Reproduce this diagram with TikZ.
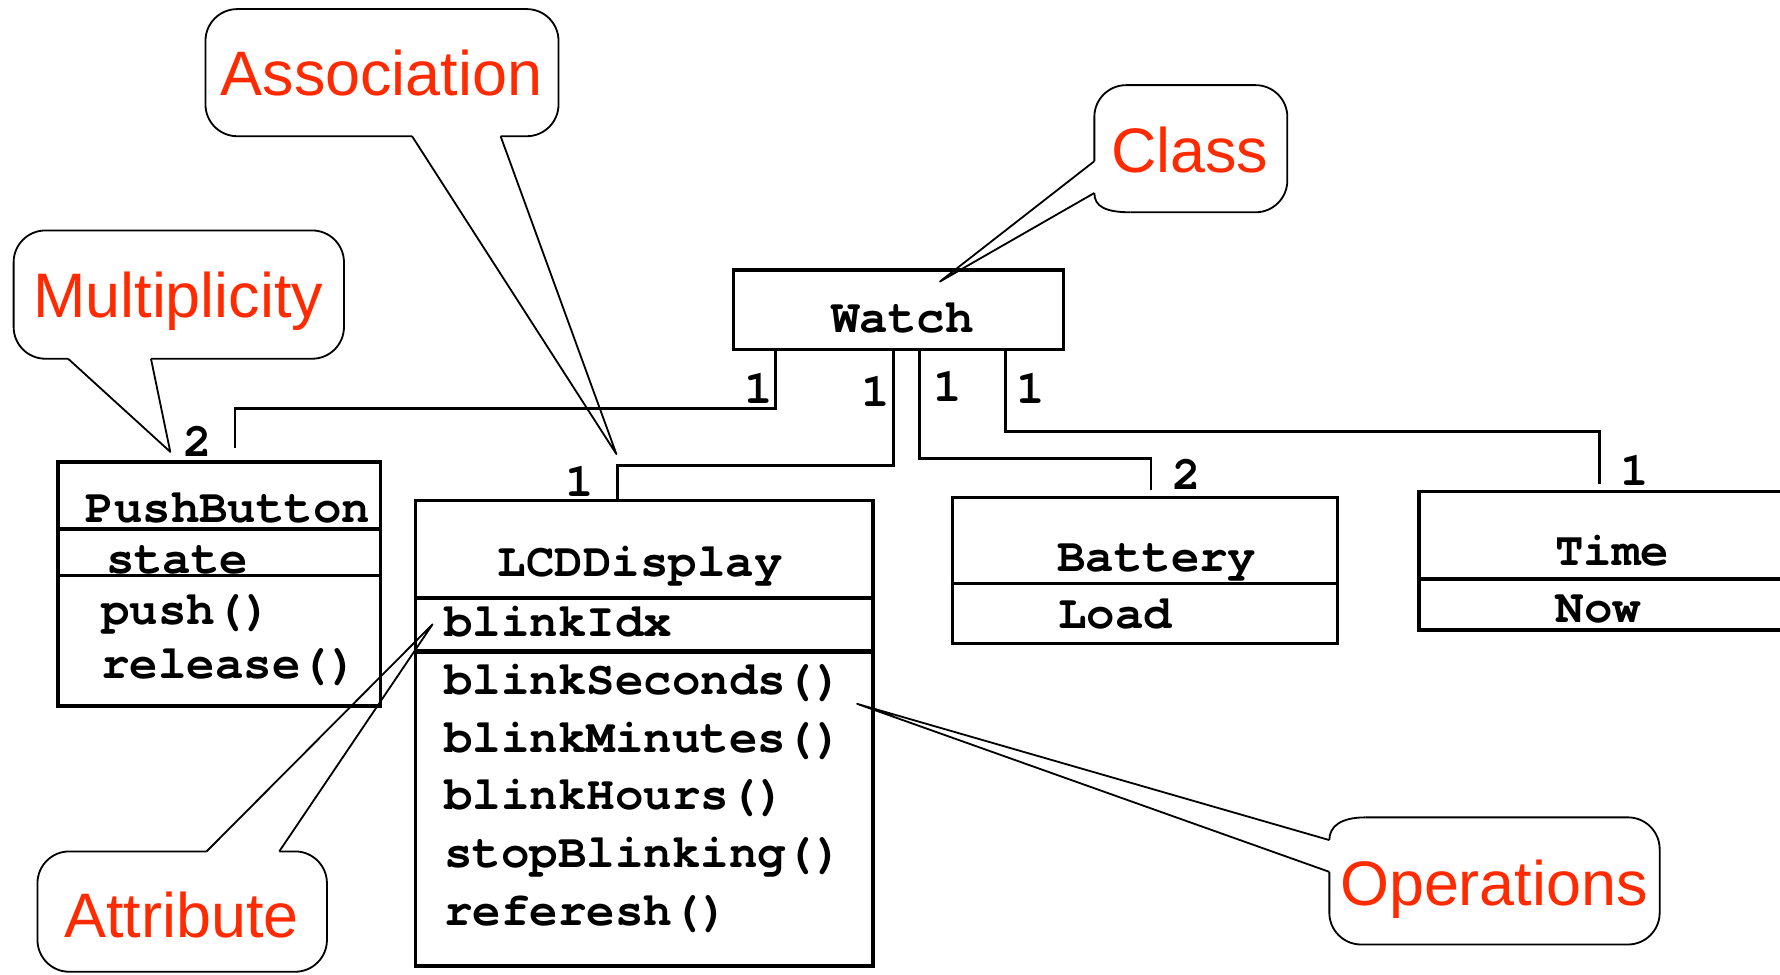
\documentclass[tikz,border=0pt]{standalone}
\usepackage{fontspec}
\setmainfont{Liberation Sans}
\setmonofont{TeX Gyre Cursor}
\usetikzlibrary{fit}
\definecolor{calred}{RGB}{255,42,0}

\begin{document}
\begin{tikzpicture}[x=0.5pt,y=-0.5pt,
        cls/.style={draw,line width=1.5pt,inner sep=0pt},
        assoc/.style={line width=1.2pt},
        callout/.style={line width=0.8pt,line join=round},
        umltext/.style={font=\ttfamily\bfseries\fontsize{20.9}{25}\selectfont,inner sep=0pt},
        note/.style={text=calred,font=\fontsize{27.7}{33}\selectfont,inner sep=0pt,anchor=base}]
        \useasboundingbox (0,0) rectangle (1568,858);

        % classes
        \node[cls,fit={(646,238) (937,308)}] (watch) {};
        \node[cls,fit={(51,407) (335,622)}] (push) {};
        \node[cls,fit={(366,441) (769,851)}] (lcd) {};
        \node[cls,fit={(839,438) (1178,567)}] (battery) {};
        \node[cls,fit={(1250,433) (1620,555)}] (time) {};
        \foreach \n/\y in {push/466,push/507,battery/514,time/510}
        {
            \draw[line width=1.5pt] (\n.west |- 0,\y) -- (\n.east |- 0,\y);
        }
        \foreach \y in {527,574}
        {
            \draw[line width=1.9pt] (lcd.west |- 0,\y) -- (lcd.east |- 0,\y);
        }

        \node[umltext,anchor=base] (watchname) at (795,293) {Watch};
        \node[umltext,anchor=base west] (pushname) at (75,460) {PushButton};
        \node[umltext,anchor=base west] (pushstate) at (93,505) {state};
        \node[umltext,anchor=base west] (pushop) at (89,550) {push()};
        \node[umltext,anchor=base west] (releaseop) at (89,598) {release()};
        \node[umltext,anchor=base] (lcdname) at (564,508) {LCDDisplay};
        \node[umltext,anchor=base west] (blinkidx) at (391,561) {blinkIdx};
        \foreach \op [count=\i] in {blinkSeconds(),blinkMinutes(),blinkHours(),stopBlinking(),referesh()}
        {
            \node[umltext,anchor=base west] (op\i) at (391,{561.25+50.75*\i}) {\op};
        }
        \node[umltext,anchor=base] (batteryname) at (1019,503) {Battery};
        \node[umltext,anchor=base west] (load) at (932,554) {Load};
        \node[umltext,anchor=base] (timename) at (1420,498) {Time};
        \node[umltext,anchor=base west] (now) at (1370,548) {Now};

        % associations
        \draw[assoc] (watch.south -| 683,0) -- (683,360) -| ([yshift=5.5pt]push.north -| 207,0);
        \draw[assoc] (watch.south -| 787,0) -- (787,410) -| (lcd.north -| 544,0);
        \draw[assoc] (watch.south -| 810,0) -- (810,404) -| ([yshift=2.5pt]battery.north -| 1014,0);
        \draw[assoc] (watch.south -| 886,0) -- (886,380) -| ([yshift=2.5pt]time.north -| 1409,0);
        \foreach \t/\x/\y [count=\i] in {1/668/355,1/771/358,1/511/437,1/835/354,2/1045/431,1/908/355,1/1440/428,2/174/402}
        {
            \node[umltext,anchor=base] (mult\i) at (\x,\y) {\t};
        }

        % callouts
        \draw[callout,rounded corners=14pt] (441,120) -- (492,120) -- (492,8) -- (181,8) -- (181,120) -- (363,120);
        \draw[callout] (363,120) -- (543,400) -- (441,120);
        \node[note] (association) at (336,84) {Association};

        \draw[callout,rounded corners=14pt] (133,316) -- (303,316) -- (303,203) -- (12,203) -- (12,316) -- (60,316);
        \draw[callout] (60,316) -- (150,398) -- (133,316);
        \node[note] (multiplicity) at (157,280) {Multiplicity};

        \draw[callout,rounded corners=14pt] (964,142) -- (964,75) -- (1134,75) -- (1134,187) -- (996,187);
        \draw[callout] (996,187) .. controls (974,187) and (964,182) .. (964,170);
        \draw[callout] (964,142) -- (828,248) -- (964,170);
        \node[note] (class) at (1048,152) {Class};

        \draw[callout,rounded corners=14pt] (246,750) -- (288,750) -- (288,856) -- (33,856) -- (33,750) -- (182,750);
        \draw[callout] (182,750) -- (381,550) -- (246,750);
        \node[note] (attribute) at (160,826) {Attribute};

        \draw[callout,rounded corners=14pt] (1171,768) -- (1171,832) -- (1462,832) -- (1462,720) -- (1203,720);
        \draw[callout] (1203,720) .. controls (1181,720) and (1171,728) .. (1171,740);
        \draw[callout] (1171,740) -- (755,620) -- (1171,768);
        \node[note] (operations) at (1316,798) {Operations};
    \end{tikzpicture}
\end{document}
